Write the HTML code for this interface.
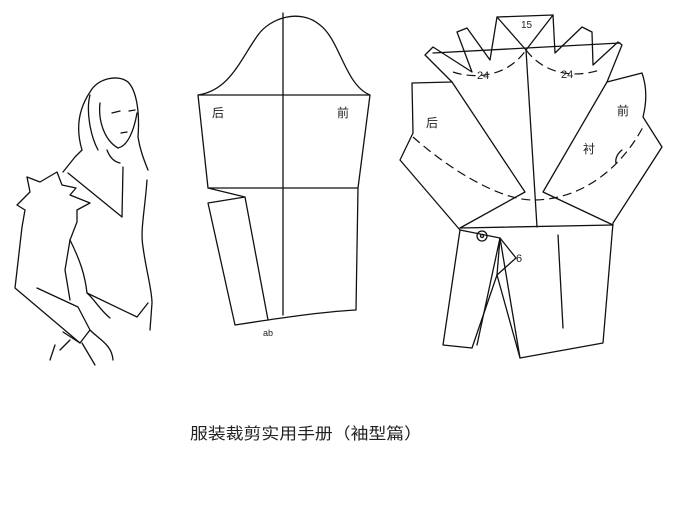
<!DOCTYPE html>
<html><head><meta charset="utf-8"><style>
html,body{margin:0;padding:0;background:#fff;}
svg{display:block;}
text{font-family:"Liberation Sans","Noto Sans CJK SC",sans-serif;fill:#222;}
</style></head><body>
<svg width="690" height="507" viewBox="0 0 690 507" xmlns="http://www.w3.org/2000/svg">
<g fill="none" stroke="#111" stroke-width="1.3" stroke-linejoin="round" stroke-linecap="round">
<!-- woman -->
<path d="M82,150 C76,130 78,110 90,92 C98,78 118,74 128,82 C136,90 140,110 138,137 C140,150 144,160 148,170"/>
<path d="M100,103 C98,120 104,140 118,148 C128,146 134,130 137,113"/>
<path d="M90,95 C86,110 90,135 98,150"/>
<path d="M107,150 C110,158 115,162 120,163"/>
<path d="M82,150 L75,157 L63,172"/>
<path d="M112,113 l8,-2 M129,111 l6,-1 M121,133 l6,-1"/>
<path d="M27,177 L40,182 L57,172 L62,185 L76,188 L70,195 L90,203 L77,210 L77,222 L70,240 L65,270 L70,300"/>
<path d="M27,177 L30,192 L17,205 L25,210 L22,227 L15,288 L80,343 L90,330 L78,307 L37,288"/>
<path d="M68,173 L122,217 L123,167"/>
<path d="M147,180 C145,210 140,230 143,247 C146,270 152,290 152,303 L150,330"/>
<path d="M70,240 C80,260 85,275 87,293 L137,317 L148,303"/>
<path d="M87,293 C95,300 100,310 110,318"/>
<path d="M63,332 L80,343 M90,330 C100,340 112,345 113,360 M82,343 L95,365"/>
<path d="M55,345 L50,360 M70,340 L60,350"/>
<!-- middle sleeve -->
<path d="M198,95 C230,90 240,60 258,35 C270,18 300,8 320,25 C340,40 345,85 370,95 L358,188 L356,310 C320,312 280,318 235,325 L208,203 L245,197 L268,320 M208,188 L245,197 M198,95 L208,188 L358,188 M198,95 L370,95"/>
<path d="M283,13 L283,315"/>
<!-- right sleeve outline -->
<path d="M412,83 L452,82 L425,55 L433,47 L472,72 L457,32 L467,28 L490,60 L497,17 L553,15 L555,53 L582,27 L592,32 L593,65 L618,42 L622,45 L607,82 L642,73 C648,90 646,105 643,117 L662,147 L613,223 L603,343 L520,358 L497,275 L472,348 L443,345 L460,230 L400,160 L413,133 Z"/>
<path d="M497,17 L526,50 L553,15"/>
<path d="M433,53 L620,43"/>
<path d="M526,50 L537,227"/>
<path d="M460,228 L613,225"/>
<path d="M452,82 L525,192 L460,228 M607,82 L543,192 L613,225"/>
<path d="M460,230 L500,238 L497,275 M500,238 L520,358 M500,238 L477,345"/>
<path d="M558,235 L563,328"/>
<path d="M500,238 L516,258 L497,275"/>
<circle cx="482" cy="236" r="5"/><circle cx="482" cy="236" r="1.5"/>
<path d="M622,150 C618,153 615,158 616,163"/>
</g>
<g fill="none" stroke="#111" stroke-width="1.2" stroke-dasharray="9,5">
<path d="M413,137 C450,170 500,200 533,200 C580,200 620,170 643,127"/>
<path d="M453,72 C470,78 505,80 526,50"/>
<path d="M526,50 C545,75 575,78 600,70"/>
</g>
<g font-size="12">
<text x="212" y="117">后</text>
<text x="337" y="117">前</text>
<text x="426" y="127">后</text>
<text x="617" y="115">前</text>
<text x="583" y="153">衬</text>
<text x="477" y="79" font-size="11">24</text>
<text x="561" y="78" font-size="11">24</text>
<text x="521" y="28" font-size="10">15</text>
<text x="516" y="262" font-size="11">6</text>
<text x="263" y="336" font-size="9">ab</text>
</g>
<text x="190" y="439" font-size="16" textLength="232" lengthAdjust="spacingAndGlyphs">服装裁剪实用手册（袖型篇）</text>
</svg>
</body></html>
